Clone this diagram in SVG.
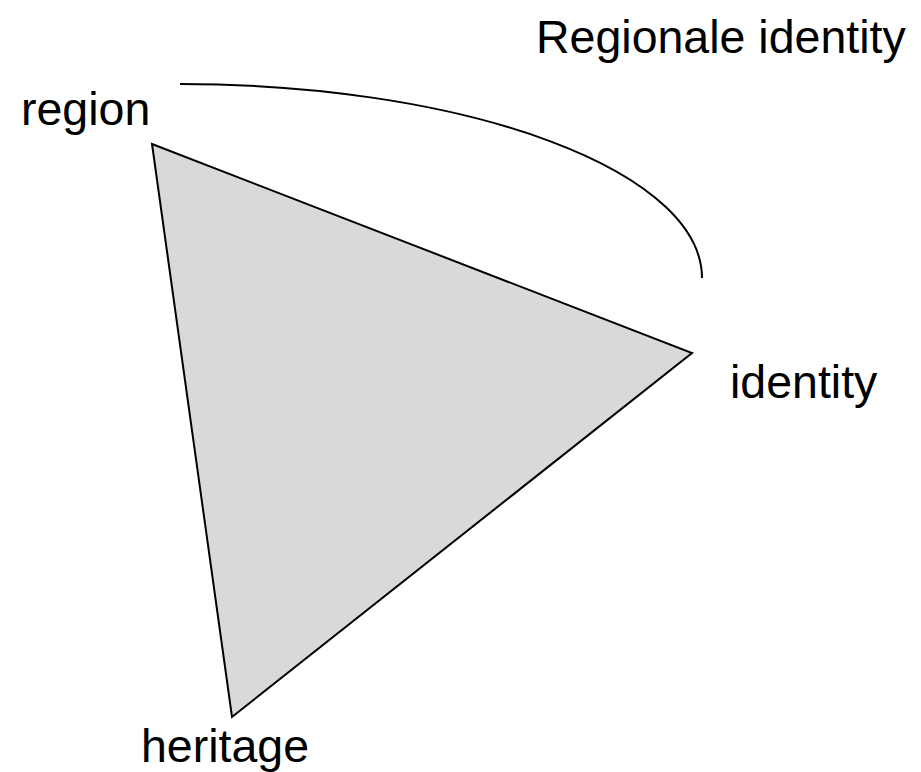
<svg xmlns="http://www.w3.org/2000/svg" width="921" height="772" viewBox="0 0 921 772">
<style>
text{font-family:"Liberation Sans",Arial,sans-serif;font-size:46.5px;fill:#000}
.tri{fill:#d9d9d9;stroke:#000;stroke-width:2}
.arc{fill:none;stroke:#000;stroke-width:2}
</style>
<rect width="921" height="772" fill="#fff"/>
<g id="triangle"><polygon class="tri" points="152,144 692,353 232,717"/></g>
<g id="connectors"><path class="arc" d="M180,84 A522,194 0 0 1 702,278"/></g>
<g id="title"><text x="536" y="53">Regionale identity</text></g>
<g id="region"><text x="21" y="125">region</text></g>
<g id="identity"><text x="730" y="398">identity</text></g>
<g id="heritage"><text x="141" y="762">heritage</text></g>
</svg>
